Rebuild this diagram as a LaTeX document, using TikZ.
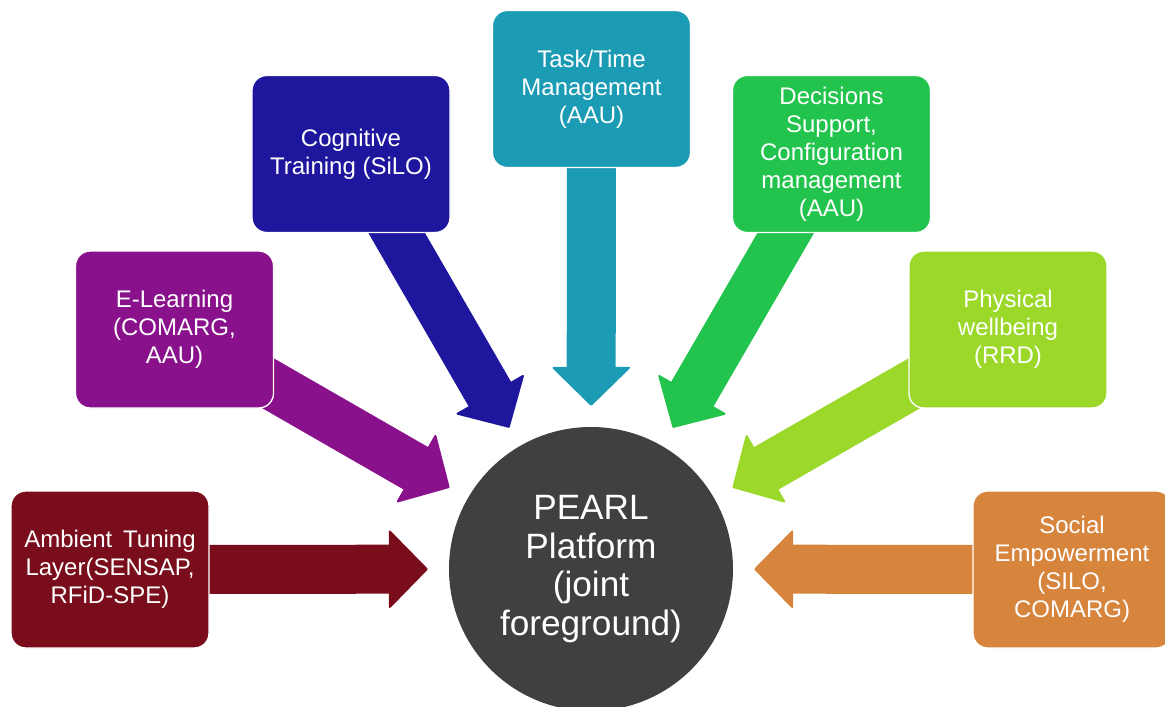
\documentclass[tikz,border=0pt]{standalone}
\usepackage{fontspec}
\setmainfont{Liberation Sans}
\usetikzlibrary{arrows.meta,backgrounds}

\definecolor{ambred}{HTML}{7A0D1C}
\definecolor{learnpurple}{HTML}{8A118C}
\definecolor{cogblue}{HTML}{1F169E}
\definecolor{taskteal}{HTML}{1C9BB4}
\definecolor{decgreen}{HTML}{22C44D}
\definecolor{physlime}{HTML}{9BD82A}
\definecolor{socorange}{HTML}{D7853D}
\definecolor{hubgrey}{HTML}{404040}

\begin{document}
\begin{tikzpicture}[x=0.75pt,y=-0.75pt,
        box/.style={draw=white,line width=1pt,rounded corners=11pt,
            minimum width=148.5pt,minimum height=117.75pt,inner sep=2pt,
            text=white,align=center,font=\fontsize{18}{21}\selectfont},
        hub/.style={circle,fill=hubgrey,minimum size=213pt,inner sep=0pt,
            text=white,align=center,font=\fontsize{26.4}{29}\selectfont},
        feed/.style={line width=36.75pt,shorten >=15.75pt,
            -{Triangle[width=60pt,length=29.5pt,line width=1.5pt,round]}}]

    \useasboundingbox (0,0) rectangle (1165,707);
    \clip (0,0) rectangle (1165,707);

    % the platform in the middle
    \node[hub] (pearl) at (591,569) {PEARL\\Platform\\(joint\\foreground)};

    % partner modules round it
    \node[box,fill=ambred]      (amb)    at (110,569.5)  {Ambient\hspace{0.45em}Tuning\\Layer(SENSAP,\\RFiD-SPE)};
    \node[box,fill=learnpurple] (learn)  at (174.5,329.5) {E-Learning\\(COMARG,\\AAU)};
    \node[box,fill=cogblue]     (cog)    at (351,154)    {Cognitive\\Training (SiLO)};
    \node[box,fill=taskteal]    (task)   at (591.5,89)   {Task/Time\\Management\\(AAU)};
    \node[box,fill=decgreen]    (dec)    at (831.5,154)  {Decisions\\Support,\\Configuration\\management\\(AAU)};
    \node[box,fill=physlime]    (phys)   at (1008,329.5) {Physical\\wellbeing\\(RRD)};
    \node[box,fill=socorange]   (social) at (1072,569.5) {Social\\Empowerment\\(SILO,\\COMARG)};

    % big arrows, under the boxes
    \begin{scope}[on background layer]
        \draw[feed,ambred]      (amb.center)    -- (pearl);
        \draw[feed,learnpurple] (learn.center)  -- (pearl);
        \draw[feed,cogblue]     (cog.center)    -- (pearl);
        \draw[feed,taskteal]    (task.center)   -- (pearl);
        \draw[feed,decgreen]    (dec.center)    -- (pearl);
        \draw[feed,physlime]    (phys.center)   -- (pearl);
        \draw[feed,socorange]   (social.center) -- (pearl);
    \end{scope}
\end{tikzpicture}
\end{document}
